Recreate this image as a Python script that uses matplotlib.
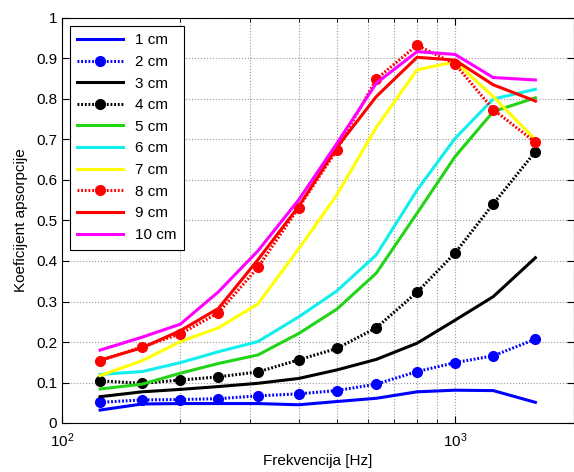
#!/usr/bin/env python3

import numpy as np
import matplotlib
matplotlib.use("Agg")
import matplotlib.pyplot as plt
from matplotlib.ticker import LogLocator, NullFormatter

# Frequencies (third-octave bands)
freq = [125, 160, 200, 250, 315, 400, 500, 630, 800, 1000, 1250, 1600]

# Absorption coefficients per thickness
a1 = [0.032, 0.047, 0.048, 0.048, 0.048, 0.045, 0.053, 0.061, 0.077, 0.081, 0.080, 0.051]
a2 = [0.051, 0.057, 0.058, 0.060, 0.067, 0.072, 0.080, 0.096, 0.127, 0.149, 0.166, 0.207]
a3 = [0.065, 0.077, 0.083, 0.090, 0.098, 0.110, 0.131, 0.157, 0.197, 0.254, 0.312, 0.408]
a4 = [0.104, 0.098, 0.106, 0.114, 0.126, 0.156, 0.184, 0.235, 0.323, 0.420, 0.541, 0.670]
a5 = [0.084, 0.096, 0.123, 0.147, 0.168, 0.221, 0.281, 0.370, 0.518, 0.658, 0.769, 0.803]
a6 = [0.120, 0.127, 0.149, 0.176, 0.201, 0.262, 0.326, 0.415, 0.575, 0.703, 0.800, 0.824]
a7 = [0.117, 0.154, 0.201, 0.235, 0.294, 0.430, 0.563, 0.730, 0.872, 0.892, 0.806, 0.699]
a8 = [0.154, 0.188, 0.220, 0.272, 0.384, 0.532, 0.674, 0.849, 0.933, 0.886, 0.774, 0.693]
a9 = [0.155, 0.186, 0.228, 0.283, 0.403, 0.535, 0.680, 0.806, 0.903, 0.896, 0.835, 0.795]
a10 = [0.180, 0.212, 0.244, 0.324, 0.425, 0.551, 0.690, 0.839, 0.917, 0.910, 0.853, 0.847]

labels = ["1 cm", "2 cm", "3 cm", "4 cm", "5 cm", "6 cm", "7 cm", "8 cm", "9 cm", "10 cm"]


def main():
	plt.rcParams['font.family'] = ['Arial', 'Liberation Sans', 'DejaVu Sans']
	plt.rcParams['font.size'] = 10

	fig = plt.figure(figsize=(5.74, 4.72), dpi=100)
	ax = fig.add_axes([62/574, 49/472, 511.5/574, 405/472])

	lw = 2.2
	ms = 7
	dot = (0, (0.6, 0.6))
	series = [
		(a1, dict(color='#0000ff', ls='-')),
		(a2, dict(color='#0000ff', ls=dot, marker='o')),
		(a3, dict(color='#000000', ls='-')),
		(a4, dict(color='#000000', ls=dot, marker='o')),
		(a5, dict(color='#22d415', ls='-')),
		(a6, dict(color='#11eeee', ls='-')),
		(a7, dict(color='#ffff00', ls='-')),
		(a8, dict(color='#ff0000', ls=dot, marker='o')),
		(a9, dict(color='#ff0000', ls='-')),
		(a10, dict(color='#ff00ff', ls='-')),
	]
	for (vals, st), lab in zip(series, labels):
		ax.plot(freq, vals, lw=lw, markersize=ms, label=lab, **st)

	ax.set_xscale('log')
	ax.set_xlim(100, 2000)
	ax.set_ylim(0, 1)
	ax.set_yticks(np.arange(0, 1.01, 0.1))
	ax.set_yticklabels(["0", "0.1", "0.2", "0.3", "0.4", "0.5", "0.6", "0.7", "0.8", "0.9", "1"])
	ax.xaxis.set_minor_locator(LogLocator(base=10, subs=np.arange(2, 10)))
	ax.xaxis.set_minor_formatter(NullFormatter())

	ax.grid(True, which='major', color='#999999', ls=':', lw=0.8)
	ax.grid(True, which='minor', axis='x', color='#999999', ls=':', lw=0.8)
	ax.tick_params(which='both', direction='in', top=True, right=True)
	ax.tick_params(which='major', length=5, labelsize=11)
	ax.tick_params(axis='x', which='major', pad=6)
	ax.tick_params(which='minor', length=3)

	ax.set_xlabel("Frekvencija [Hz]", fontsize=11, labelpad=3)
	ax.set_ylabel("Koeficijent apsorpcije", fontsize=11, labelpad=6)

	leg = ax.legend(loc='upper left', fontsize=11, handlelength=3.0, labelspacing=0.5,
		fancybox=False, framealpha=1, edgecolor='black', borderaxespad=0.5,
		borderpad=0.5)
	leg.get_frame().set_linewidth(0.8)

	fig.savefig("out.png", dpi=100)


if __name__ == "__main__":
	main()
